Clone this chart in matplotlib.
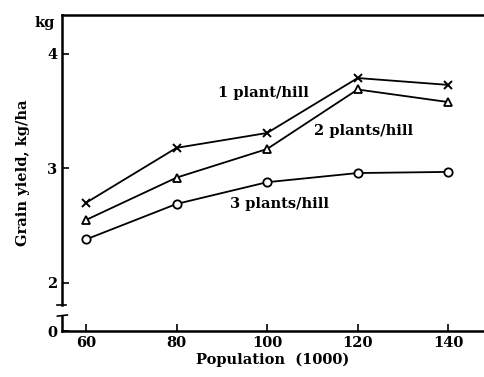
import matplotlib
matplotlib.use("Agg")
import matplotlib.pyplot as plt

population = [60, 80, 100, 120, 140]
one_plant = [2.70, 3.18, 3.31, 3.79, 3.73]
two_plants = [2.55, 2.92, 3.17, 3.69, 3.58]
three_plants = [2.38, 2.69, 2.88, 2.96, 2.97]

ytick_vals = [1.58, 2, 3, 4]
ytick_labels = ["0", "2", "3", "4"]

plt.rcParams['font.family'] = ['DejaVu Serif']
plt.rcParams['font.weight'] = 'bold'
plt.rcParams['axes.labelweight'] = 'bold'

fig = plt.figure(figsize=(4.84, 3.77), dpi=100)
ax = fig.add_axes([0.128, 0.122, 0.872, 0.838])

ax.plot(population, one_plant, color="black", lw=1.3, marker="x", ms=6, mew=1.4)
ax.plot(population, two_plants, color="black", lw=1.3, marker="^", ms=6,
        mfc="white", mew=1.3)
ax.plot(population, three_plants, color="black", lw=1.3, marker="o", ms=6,
        mfc="white", mew=1.3)

txt = dict(fontsize=10.5, ha="center", va="center")
ax.text(99.3, 3.655, "1 plant/hill", **txt)
ax.text(121.4, 3.33, "2 plants/hill", **txt)
ax.text(102.8, 2.69, "3 plants/hill", **txt)

xmin = 54.7
ax.set_xlim(xmin, 147.9)
ax.set_ylim(1.58, 4.34)
ax.set_xticks(population)
ax.set_yticks(ytick_vals)
ax.set_yticklabels(ytick_labels)
ax.tick_params(direction="in", length=5, width=1.2, labelsize=10.5)

for s in ["bottom", "top"]:
    ax.spines[s].set_linewidth(1.8)
ax.spines["right"].set_visible(False)
ax.spines["left"].set_visible(False)

# left axis drawn in two pieces with a break between 0 and 2
kw = dict(color="black", clip_on=False, zorder=6)
ax.plot([xmin, xmin], [1.81, 4.34], lw=1.8, **kw)
ax.plot([xmin, xmin], [1.58, 1.71], lw=1.8, **kw)
ax.plot([xmin - 1.0, xmin + 1.0], [1.81, 1.81], lw=1.2, **kw)
ax.plot([xmin - 1.0, xmin + 1.2], [1.71, 1.72], lw=1.2, **kw)

ax.set_xlabel("Population  (1000)", fontsize=10.5, labelpad=2)
ax.set_ylabel("Grain yield, kg/ha", fontsize=10.5, labelpad=12)
fig.text(0.093, 0.94, "kg", fontsize=10.5, ha="center", va="center")

fig.savefig("out.png", dpi=100)
